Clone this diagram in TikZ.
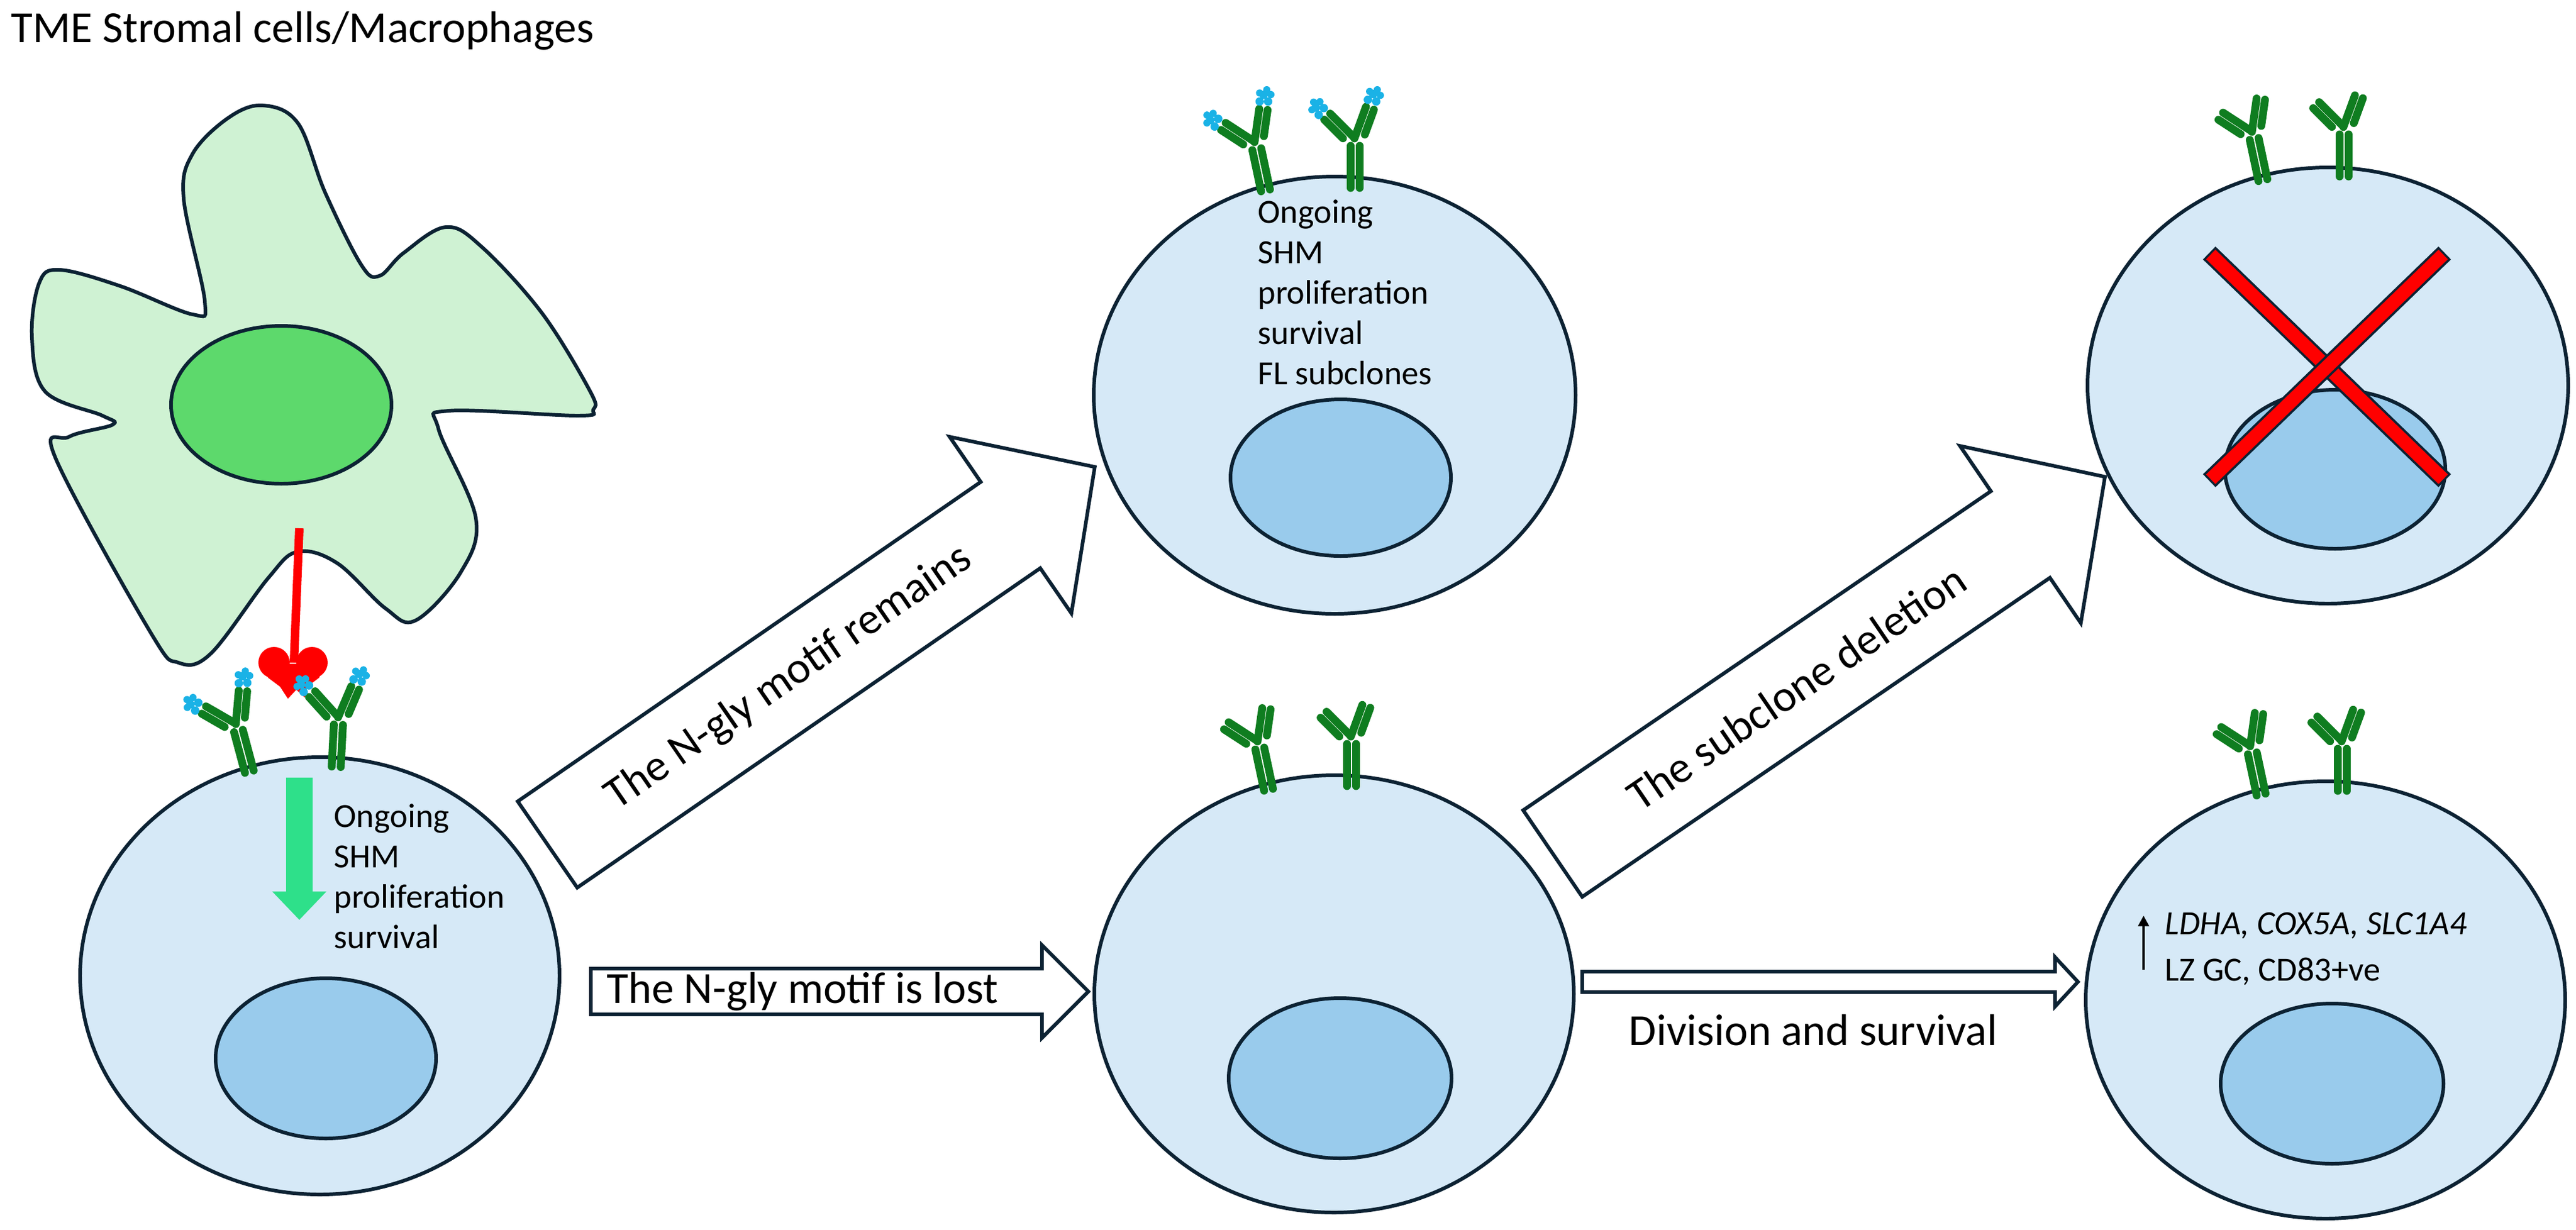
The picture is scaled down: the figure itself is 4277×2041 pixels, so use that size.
\documentclass[tikz,border=0pt]{standalone}
\usepackage{fontspec}
\setmainfont{Carlito}
\usetikzlibrary{arrows.meta,shapes.geometric}
\definecolor{outl}{HTML}{0C2233}
\definecolor{cellfill}{HTML}{D6E9F7}
\definecolor{nucfill}{HTML}{99CBEC}
\definecolor{strfill}{HTML}{CFF2D3}
\definecolor{strnuc}{HTML}{5DD96C}
\definecolor{abgreen}{HTML}{0F7D20}
\definecolor{abblue}{HTML}{1AB2E6}
\definecolor{arrgreen}{HTML}{2EE08A}
\newif\ifabblue
\newcommand\abdraw{%
  \draw[abbar] (-7.5,-4) -- (-7.5,-74);
  \draw[abbar] (7.5,-4) -- (7.5,-74);
  \begin{scope}[shift={(-4,-80)},rotate=45]
    \draw[abbar] (7,-4) -- (7,-60);
    \draw[abbar] (-7,-16) -- (-7,-60);
    \ifabblue\abtip\fi
  \end{scope}
  \begin{scope}[shift={(4,-80)},rotate=-20]
    \draw[abbar] (-7,-4) -- (-7,-60);
    \draw[abbar] (7,-16) -- (7,-60);
    \ifabblue\abtip\fi
  \end{scope}}
\newcommand\abtip{%
  \fill[abblue] (-8,-72) circle (7) (6,-74) circle (7) (-3,-84) circle (7)
    (9,-86) circle (6) (-10,-86) circle (6) (1,-93) circle (6);}
\newcommand\blockarrow[8]{% x,y,angle,length,shaft half,head half,head length,label
  \begin{scope}[shift={(#1,#2)},rotate=#3]
    \draw[blockarr] (0,-#5) -- ({#4-#7},-#5) -- ({#4-#7},-#6) -- (#4,0)
      -- ({#4-#7},#6) -- ({#4-#7},#5) -- (0,#5) -- cycle;
    \node[lbl,transform shape] at ({(#4-#7)/2+20},0) {#8};
  \end{scope}}
\tikzset{
  cell/.style={draw=outl,line width=1.7pt,fill=cellfill},
  nuc/.style={draw=outl,line width=1.7pt,fill=nucfill},
  abbar/.style={abgreen,line width=3.7pt,line cap=round},
  blockarr/.style={draw=outl,line width=1.7pt,fill=white,line join=miter},
  lbl/.style={font=\fontsize{21}{25}\selectfont,inner sep=0pt},
  txt/.style={font=\fontsize{16}{19}\selectfont,inner sep=0pt,anchor=base west},
  pics/ab/.style={code={\abbluefalse\abdraw}},
  pics/abb/.style={code={\abbluetrue\abdraw}},
}
\begin{document}
\begin{tikzpicture}[x=0.01cm,y=-0.01cm]
\useasboundingbox (0,0) rectangle (4277,2041);
\node[lbl,anchor=base west] (title) at (18,70) {TME Stromal cells/Macrophages};
% stromal cell
\draw[draw=outl,line width=1.7pt,fill=strfill] plot[smooth cycle,tension=0.6] coordinates {
 (437,175)(495,205)(540,320)(600,440)(630,458)(670,420)(740,377)(800,410)(900,520)(980,650)(985,680)(960,690)(745,682)(728,712)(790,860)(765,950)(690,1030)(640,1010)(560,935)(494,916)(445,960)(350,1085)(296,1100)(250,1050)(92,760)(115,725)(187,705)(170,690)(75,650)(53,560)(65,470)(99,448)(200,475)(320,522)(340,500)(305,330)(320,255)(380,195)};
\draw[draw=outl,line width=1.7pt,fill=strnuc] (467,672) ellipse [x radius=183,y radius=131];
% cells
\draw[cell] (531,1620) ellipse [x radius=398,y radius=363];
\draw[nuc] (541,1757) ellipse [x radius=183,y radius=133];
\draw[cell] (2216,656) ellipse [x radius=400,y radius=363];
\draw[nuc] (2226,793) ellipse [x radius=183,y radius=130];
\draw[cell] (2215,1650) ellipse [x radius=398,y radius=363];
\draw[nuc] (2225,1790) ellipse [x radius=185,y radius=133];
\draw[cell] (3865,640) ellipse [x radius=399,y radius=362];
\draw[nuc] (3877,779) ellipse [x radius=183,y radius=132];
\draw[cell] (3861,1660) ellipse [x radius=398,y radius=363];
\draw[nuc] (3872,1799) ellipse [x radius=185,y radius=133];
% red ligand
\draw[red,line width=4pt] (497,877) -- (488,1100);
\fill[red] (455,1100) circle (26) (518,1100) circle (26);
\fill[red] (436,1102) -- (538,1102) -- (530,1125) -- (510,1140) -- (506,1158) -- (492,1145) -- (478,1160) -- (465,1140) -- (445,1125) -- cycle;
% antibodies
\pic[rotate=15] at (415,1285) {abb};
\pic[rotate=-3] at (558,1277) {abb};
\pic[rotate=12] at (2102,320) {abb};
\pic at (2250,316) {abb};
\pic[rotate=12] at (2107,1315) {ab};
\pic at (2244,1309) {ab};
\pic[rotate=12] at (3758,303) {ab};
\pic at (3892,297) {ab};
\pic[rotate=12] at (3755,1323) {ab};
\pic at (3889,1317) {ab};
% green arrow
\fill[arrgreen] (475,1291) -- (519,1291) -- (519,1480) -- (542,1480) -- (497,1527) -- (452,1480) -- (475,1480) -- cycle;
% cell texts
\node[txt] (t1a) at (554,1373) {Ongoing};
\node[txt] (t1b) at (554,1440) {SHM};
\node[txt] (t1c) at (554,1507) {proliferation};
\node[txt] (t1d) at (554,1574) {survival};
\node[txt] (t2a) at (2088,370) {Ongoing};
\node[txt] (t2b) at (2088,437) {SHM};
\node[txt] (t2c) at (2088,504) {proliferation};
\node[txt] (t2d) at (2088,571) {survival};
\node[txt] (t2e) at (2088,638) {FL subclones};
\node[txt] (t3a) at (3594,1551) {\textit{LDHA, COX5A, SLC1A4}};
\node[txt] (t3b) at (3594,1628) {LZ GC, CD83+ve};
\coordinate (upA) at (3559,1610);
\coordinate (upB) at (3559,1520);
\draw[-{Triangle[length=5pt,width=5pt]},line width=1.2pt] (upA) -- (upB);
% red X
\draw[outl,line width=8.5pt] (3668,420) -- (4059,798);
\draw[red,line width=6.3pt,shorten <=1pt,shorten >=1pt] (3668,420) -- (4059,798);
\draw[outl,line width=8.5pt] (4059,420) -- (3668,798);
\draw[red,line width=6.3pt,shorten <=1pt,shorten >=1pt] (4059,420) -- (3668,798);
% block arrows
\blockarrow{909}{1402}{34.6}{1104}{87}{178}{170}{The N-gly motif remains}
\blockarrow{2578}{1417}{34.3}{1110}{87}{178}{170}{The subclone deletion}
\begin{scope}[shift={(981,1646)}]
  \draw[blockarr] (0,-38) -- (749,-38) -- (749,-77) -- (826,0) -- (749,77) -- (749,38) -- (0,38) -- cycle;
  \node[lbl,anchor=west] (lost) at (26,0) {The N-gly motif is lost};
\end{scope}
\begin{scope}[shift={(2627,1630)}]
  \draw[blockarr] (0,-17) -- (785,-17) -- (785,-41) -- (823,0) -- (785,41) -- (785,17) -- (0,17) -- cycle;
\end{scope}
\node[lbl,anchor=base west] (div) at (2704,1735) {Division and survival};
\end{tikzpicture}
\end{document}
